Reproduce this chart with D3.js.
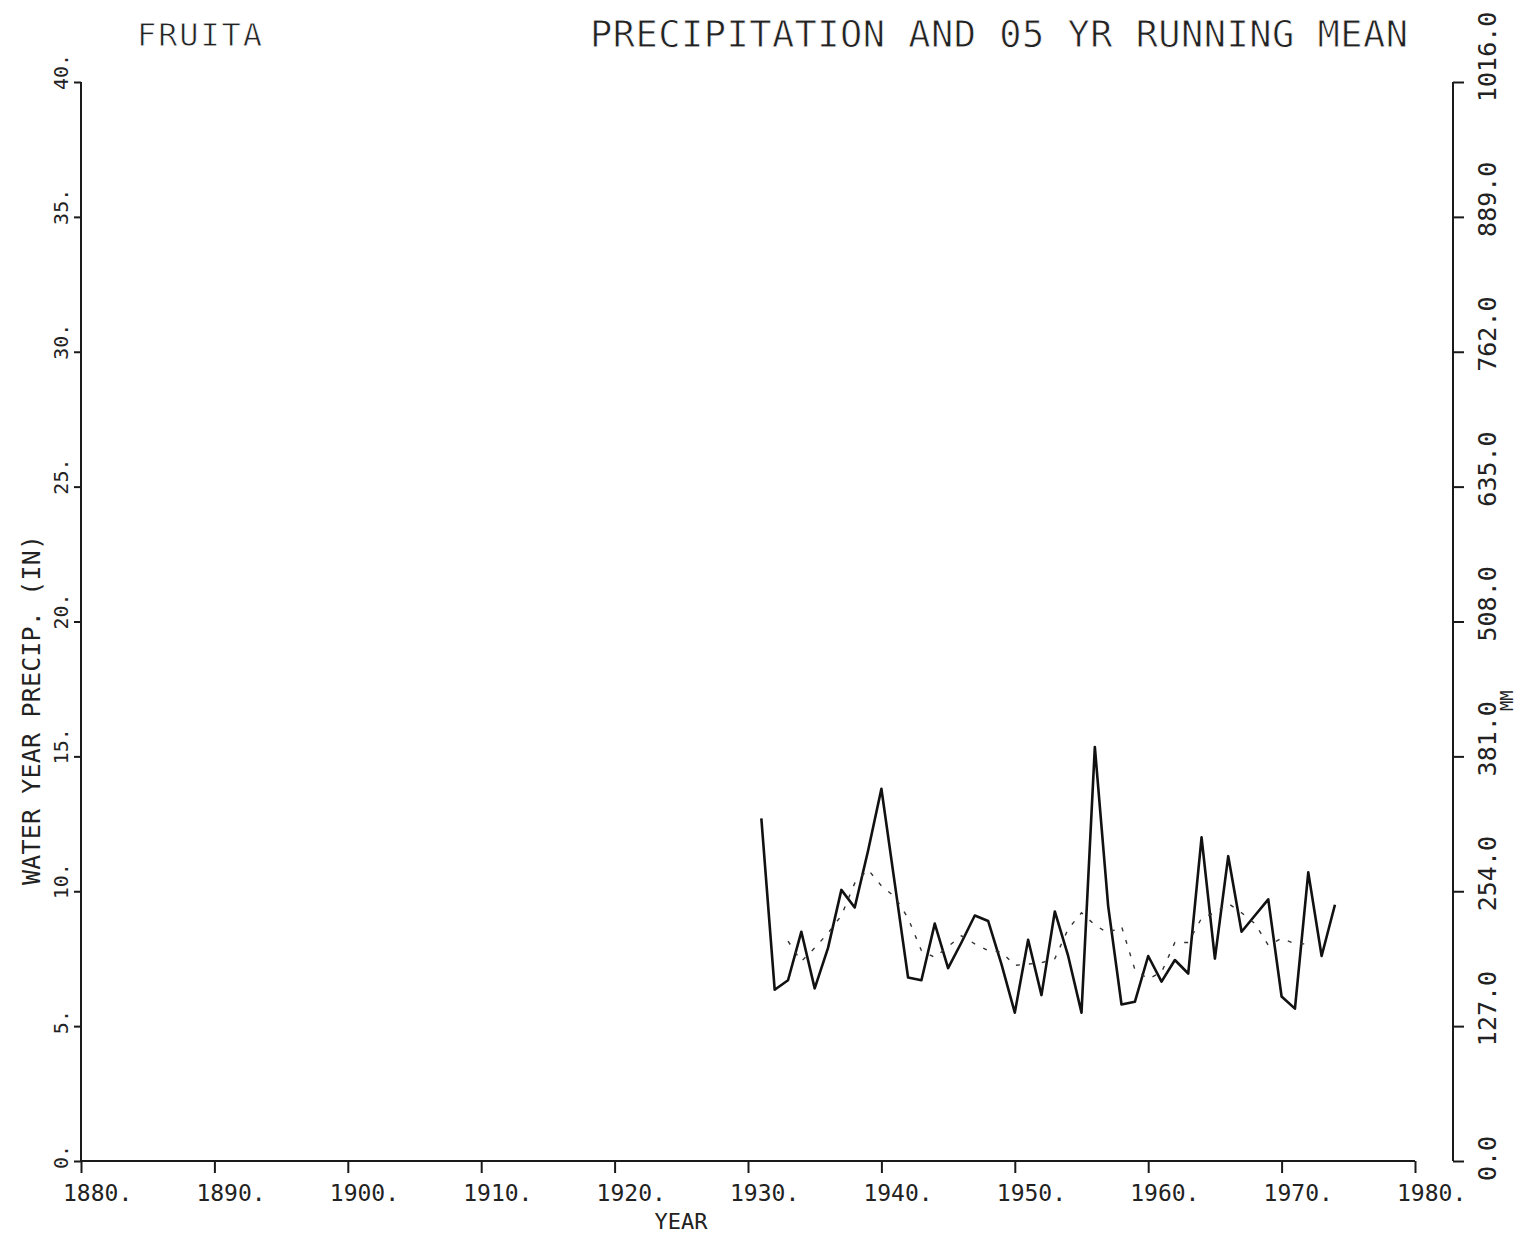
<!DOCTYPE html>
<html>
<head>
<meta charset="utf-8">
<script src="https://cdn.jsdelivr.net/npm/d3@7"></script>
<style>
  html, body { margin: 0; padding: 0; background: #fff; }
  svg text { font-family: "DejaVu Sans Mono", "Liberation Mono", monospace; fill: #222; }
  svg text.thin { stroke: #fff; stroke-width: 0.8px; }
</style>
</head>
<body>
<svg id="chart" width="1520" height="1235"></svg>
<script>
// ---- data ----
const years = [1931,1932,1933,1934,1935,1936,1937,1938,1939,1940,
               1941,1942,1943,1944,1945,1946,1947,1948,1949,1950,
               1951,1952,1953,1954,1955,1956,1957,1958,1959,1960,
               1961,1962,1963,1964,1965,1966,1967,1968,1969,1970,
               1971,1972,1973,1974];
const precip = [12.7,6.35,6.7,8.5,6.4,7.9,10.05,9.4,11.5,13.8,
                10.3,6.8,6.7,8.8,7.15,8.1,9.1,8.9,7.3,5.5,
                8.2,6.15,9.25,7.6,5.5,15.35,9.45,5.8,5.9,7.6,
                6.65,7.45,6.95,12.0,7.5,11.3,8.5,9.1,9.7,6.1,
                5.65,10.7,7.6,9.5];
const meanYears = [1933,1934,1935,1936,1937,1938,1939,1940,1941,1942,
                   1943,1944,1945,1946,1947,1948,1949,1950,1951,1952,
                   1953,1954,1955,1956,1957,1958,1959,1960,1961,1962,
                   1963,1964,1965,1966,1967,1968,1969,1970,1971,1972];
const runMean = [8.15,7.4,7.9,8.45,9.1,10.3,10.8,10.2,9.8,9.0,
                 7.8,7.55,7.95,8.35,8.05,7.8,7.75,7.25,7.3,7.35,
                 7.5,8.6,9.2,8.75,8.45,8.7,7.1,6.75,7.0,8.1,
                 8.1,9.0,9.2,9.55,9.2,8.8,8.0,8.25,8.05,8.05];
const xTicks = [1880,1890,1900,1910,1920,1930,1940,1950,1960,1970,1980];
const yTicks = [0,5,10,15,20,25,30,35,40];
const yTickLabels = ["0.","5.","10.","15.","20.","25.","30.","35.","40."];
const mmTicks = [0,127,254,381,508,635,762,889,1016];
const mmTickLabels = ["0.0","127.0","254.0","381.0","508.0","635.0","762.0","889.0","1016.0"];
const stationName = "FRUITA";
const titleText = "PRECIPITATION AND 05 YR RUNNING MEAN";

// ---- layout ----
const pLeft = 81, pRight = 1415, pTop = 82, pBottom = 1161, rightAxisX = 1453;
const svg = d3.select("#chart");
const x = d3.scaleLinear().domain([1880, 1980]).range([pLeft, pRight]);
const y = d3.scaleLinear().domain([0, 40]).range([pBottom, pTop]);
const yMM = d3.scaleLinear().domain([0, 1016]).range([pBottom, pTop]);

const ink = "#1a1a1a";

// bottom axis
const xAxis = d3.axisBottom(x).tickValues(xTicks).tickSize(12).tickFormat("");
const gx = svg.append("g").attr("transform", `translate(0,${pBottom})`).call(xAxis);
gx.select(".domain").attr("d", `M${pLeft},0H${pRight}`);
gx.selectAll("path,line").attr("stroke", ink).attr("stroke-width", 2);
svg.append("g").selectAll("text").data(xTicks).join("text")
  .attr("x", d => x(d) - 18).attr("y", pBottom + 40)
  .attr("font-size", 23).text(d => d + ".");

// left axis
const yAxis = d3.axisLeft(y).tickValues(yTicks).tickSize(7).tickFormat("");
const gy = svg.append("g").attr("transform", `translate(${pLeft},0)`).call(yAxis);
gy.select(".domain").attr("d", `M0,${pTop}V${pBottom}`);
gy.selectAll("path,line").attr("stroke", ink).attr("stroke-width", 2);
svg.append("g").selectAll("text").data(yTicks).join("text")
  .attr("transform", d => `translate(68,${y(d) + 8}) rotate(-90)`)
  .attr("font-size", 20).text((d, i) => yTickLabels[i]);

// right axis (mm)
const yAxisR = d3.axisRight(yMM).tickValues(mmTicks).tickSize(11).tickFormat("");
const gr = svg.append("g").attr("transform", `translate(${rightAxisX},0)`).call(yAxisR);
gr.select(".domain").attr("d", `M0,${pTop}V${pBottom}`);
gr.selectAll("path,line").attr("stroke", ink).attr("stroke-width", 2);
svg.append("g").selectAll("text").data(mmTicks).join("text")
  .attr("transform", d => `translate(1496,${yMM(d) + 20}) rotate(-90)`)
  .attr("font-size", 25).text((d, i) => mmTickLabels[i]);
svg.append("text").attr("transform", "translate(1513,711) rotate(-90)")
  .attr("font-size", 17).text("MM");

// titles
svg.append("text").attr("class", "thin").attr("x", 137).attr("y", 46).attr("font-size", 32)
  .attr("textLength", 125).attr("lengthAdjust", "spacing").text(stationName);
svg.append("text").attr("class", "thin").attr("x", 590).attr("y", 47).attr("font-size", 37)
  .attr("textLength", 818).attr("lengthAdjust", "spacing").text(titleText);
svg.append("text").attr("transform", "translate(40,885) rotate(-90)")
  .attr("font-size", 25).attr("textLength", 350).attr("lengthAdjust", "spacing")
  .text("WATER YEAR PRECIP. (IN)");
svg.append("text").attr("x", 681).attr("y", 1229).attr("font-size", 22)
  .attr("text-anchor", "middle").text("YEAR");

// series
const line = d3.line().x(d => x(d[0])).y(d => y(d[1]));
svg.append("path").datum(years.map((yr, i) => [yr, precip[i]]))
  .attr("d", line).attr("fill", "none").attr("stroke", "#111")
  .attr("stroke-width", 2.6).attr("stroke-linejoin", "round");
svg.append("path").datum(meanYears.map((yr, i) => [yr, runMean[i]]))
  .attr("d", line).attr("fill", "none").attr("stroke", "#333")
  .attr("stroke-width", 1.4).attr("stroke-dasharray", "4,9");
</script>
</body>
</html>
